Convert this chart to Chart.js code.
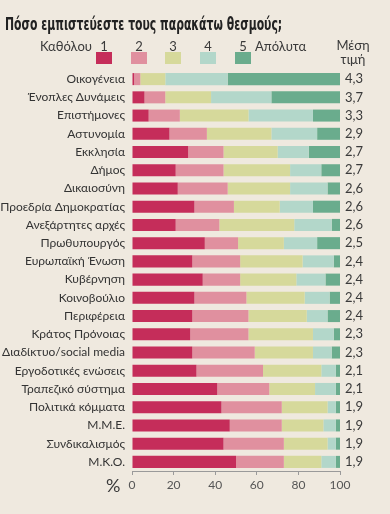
<!DOCTYPE html>
<html>
<head>
<meta charset="utf-8">
<script src="https://cdn.jsdelivr.net/npm/chart.js@4"></script>
<style>
  html, body { margin:0; padding:0; background:#efe9df; }
  #wrap { position:relative; width:390px; height:514px; background:#efe9df; overflow:hidden; }
  #c { position:absolute; left:0; top:0; }
  .t { position:absolute; white-space:nowrap; color:#3a3a3a; font-family:Lato, "Noto Sans", sans-serif; }
  #title { left:5px; top:14px; font-family:"Liberation Sans Narrow", "DejaVu Sans Condensed", sans-serif; font-weight:bold; font-size:17px; color:#222; transform:scaleX(0.71); transform-origin:0 0; }
  .sq { position:absolute; width:16px; height:12px; }
</style>
</head>
<body>
<div id="wrap">
  <canvas id="c" width="390" height="514"></canvas>
  <div id="title" class="t">Πόσο εμπιστεύεστε τους παρακάτω θεσμούς;</div>
  <div id="legend"></div>
  <div class="t" style="left:335px; top:38px; font-size:13px; width:36px; text-align:center; line-height:14px;">Μέση<br>τιμή</div>
  <div class="t" style="left:106px; top:474px; font-size:18px;">%</div>
</div>
<script>
const categories = ['Οικογένεια','Ένοπλες Δυνάμεις','Επιστήμονες','Αστυνομία','Εκκλησία','Δήμος','Δικαιοσύνη','Προεδρία Δημοκρατίας','Ανεξάρτητες αρχές','Πρωθυπουργός','Ευρωπαϊκή Ένωση','Κυβέρνηση','Κοινοβούλιο','Περιφέρεια','Κράτος Πρόνοιας','Διαδίκτυο/social media','Εργοδοτικές ενώσεις','Τραπεζικό σύστημα','Πολιτικά κόμματα','Μ.Μ.Ε.','Συνδικαλισμός','Μ.Κ.Ο.'];
const series1 = [1,6,8,18,27,21,22,30,21,35,29,34,30,29,28,29,31,41,43,47,44,50];
const series2 = [3,10,15,18,17,23,24,19,21,16,23,18,25,27,28,30,32,25,29,25,29,23];
const series3 = [12,22,33,31,26,32,30,22,36,22,30,27,28,28,31,28,28,22,22,20,21,18];
const series4 = [30,29,31,22,15,15,18,16,18,16,15,14,12,10,10,9,7,10,4,6,4,7];
const series5 = [54,33,13,11,15,9,6,13,4,11,3,7,5,6,3,4,2,2,2,2,2,2];
const means = ['4,3','3,7','3,3','2,9','2,7','2,7','2,6','2,6','2,6','2,5','2,4','2,4','2,4','2,4','2,3','2,3','2,1','2,1','1,9','1,9','1,9','1,9'];
const seriesNames = ['1','2','3','4','5'];
const colors = ['#c52d5a','#e0909f','#d6d99b','#b3d7ca','#6aac8d'];
const xTicks = [0,10,20,30,40,50,60,70,80,90,100];

// legend
const legend = document.getElementById('legend');
const legX = [96,131,165,200,235];
seriesNames.forEach((n,i)=>{
  const num = document.createElement('div');
  num.className='t'; num.textContent=n;
  num.style.cssText += `left:${legX[i]}px;top:38px;width:16px;text-align:center;font-size:13px;`;
  legend.appendChild(num);
  const sq = document.createElement('div');
  sq.className='sq'; sq.style.left=legX[i]+'px'; sq.style.top='52px'; sq.style.background=colors[i];
  legend.appendChild(sq);
});
const l1 = document.createElement('div'); l1.className='t'; l1.textContent='Καθόλου';
l1.style.cssText += 'right:298px;top:38px;font-size:13px;'; legend.appendChild(l1);
const l5 = document.createElement('div'); l5.className='t'; l5.textContent='Απόλυτα';
l5.style.cssText += 'left:255px;top:38px;font-size:13px;'; legend.appendChild(l5);

const font = {family:'Lato, "Noto Sans", sans-serif', size:12};
const series = [series1,series2,series3,series4,series5];
new Chart(document.getElementById('c'), {
  type:'bar',
  data:{
    labels: categories,
    datasets: series.map((d,i)=>({label:seriesNames[i], data:d, backgroundColor:colors[i], borderWidth:0, barPercentage:0.66, categoryPercentage:1}))
  },
  options:{
    indexAxis:'y',
    responsive:false,
    animation:false,
    layout:{padding:{top:70,left:0,right:0,bottom:0}},
    plugins:{legend:{display:false}, tooltip:{enabled:false}},
    scales:{
      x:{
        stacked:true, min:0, max:100,
        afterBuildTicks: s => { s.ticks = xTicks.map(v=>({value:v})); },
        afterFit: s => { s.height = 43; },
        grid:{drawOnChartArea:false, tickLength:4, color:'#9a9a9a'},
        border:{display:true, color:'#9a9a9a'},
        ticks:{font:{family:font.family,size:12}, color:'#555', padding:3, maxRotation:0}
      },
      y:{
        stacked:true,
        afterFit: s => { s.width = 132; },
        grid:{display:false, drawTicks:false},
        border:{display:false},
        ticks:{font:font, color:'#333', padding:7, autoSkip:false}
      },
      y2:{
        type:'category', labels: means, position:'right', offset:true,
        afterFit: s => { s.width = 50; },
        grid:{display:false, drawTicks:false},
        border:{display:false},
        ticks:{font:{family:font.family,size:13}, color:'#3a3a3a', padding:5, autoSkip:false}
      }
    }
  }
});
</script>
</body>
</html>
